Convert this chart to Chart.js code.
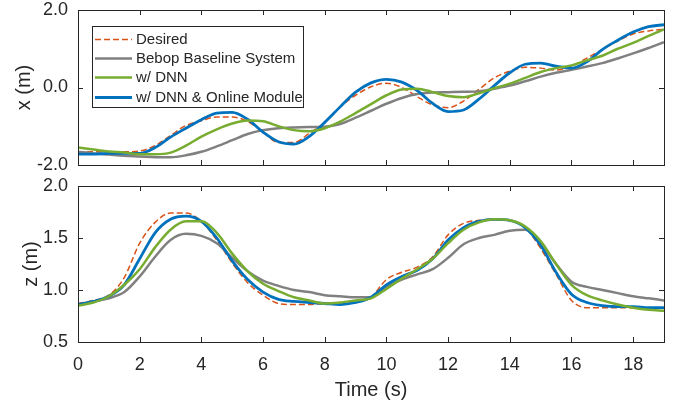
<!DOCTYPE html>
<html>
<head>
<meta charset="utf-8">
<script src="https://cdn.jsdelivr.net/npm/chart.js@4.4.1/dist/chart.umd.min.js"></script>
<style>
  body { margin: 0; background: #fff; overflow: hidden; }
  #wrap { position: relative; width: 693px; height: 400px; overflow: hidden; }
  #wrap canvas { position: absolute; left: 0; }
</style>
</head>
<body>
<div id="wrap">
  <canvas id="chartX" width="693" height="180" style="top:0"></canvas>
  <canvas id="chartZ" width="693" height="227" style="top:176px"></canvas>
</div>
<script>
// time (s)
const tiempo = [0, 0.5, 1, 1.5, 2, 2.5, 3, 3.5, 4, 4.5, 5, 5.5, 6, 6.5, 7, 7.5, 8, 8.5, 9, 9.5,
  10, 10.5, 11, 11.5, 12, 12.5, 13, 13.5, 14, 14.5, 15, 15.5, 16, 16.5, 17, 17.5, 18, 18.5, 19];

const etiquetas = ["Desired", "Bebop Baseline System", "w/ DNN", "w/ DNN & Online Module"];

// x position (m)
const xDeseado = [-1.66, -1.66, -1.66, -1.66, -1.64, -1.5, -1.24, -0.98, -0.86, -0.76, -0.76, -0.88, -1.15, -1.42, -1.42, -1.18, -0.9, -0.5, -0.2, 0.02,
  0.11, 0.0, -0.24, -0.45, -0.52, -0.35, -0.05, 0.25, 0.42, 0.52, 0.5, 0.45, 0.55, 0.76, 0.98, 1.2, 1.38, 1.46, 1.5];
const xBebop = [-1.66, -1.7, -1.73, -1.76, -1.78, -1.8, -1.8, -1.75, -1.66, -1.52, -1.36, -1.2, -1.1, -1.05, -1.03, -1.02, -1.01, -0.94, -0.78, -0.6,
  -0.42, -0.27, -0.17, -0.13, -0.12, -0.11, -0.1, -0.03, 0.05, 0.16, 0.28, 0.38, 0.46, 0.54, 0.63, 0.75, 0.88, 1.02, 1.17];
const xDnn = [-1.55, -1.6, -1.65, -1.68, -1.72, -1.72, -1.68, -1.5, -1.27, -1.08, -0.93, -0.85, -0.87, -1.0, -1.1, -1.13, -1.05, -0.88, -0.66, -0.43,
  -0.2, -0.05, -0.03, -0.12, -0.22, -0.25, -0.15, -0.02, 0.1, 0.25, 0.4, 0.5, 0.57, 0.7, 0.82, 1.0, 1.15, 1.33, 1.5];
const xOnline = [-1.72, -1.72, -1.7, -1.7, -1.7, -1.55, -1.28, -1.05, -0.83, -0.66, -0.64, -0.82, -1.15, -1.4, -1.46, -1.26, -0.9, -0.5, -0.12, 0.12,
  0.21, 0.14, -0.08, -0.41, -0.62, -0.58, -0.3, 0.05, 0.38, 0.6, 0.63, 0.55, 0.5, 0.66, 0.98, 1.22, 1.43, 1.57, 1.62];

// z position (m)
const zDeseado = [0.87, 0.9, 0.95, 1.12, 1.45, 1.65, 1.74, 1.74, 1.66, 1.48, 1.26, 1.07, 0.95, 0.87, 0.86, 0.86, 0.87, 0.87, 0.88, 0.93,
  1.1, 1.17, 1.22, 1.32, 1.53, 1.64, 1.67, 1.68, 1.67, 1.6, 1.4, 1.15, 0.9, 0.83, 0.83, 0.83, 0.83, 0.83, 0.83];
const zBebop = [0.86, 0.89, 0.92, 0.98, 1.13, 1.32, 1.48, 1.54, 1.52, 1.45, 1.31, 1.18, 1.09, 1.04, 1.0, 0.98, 0.95, 0.94, 0.93, 0.93,
  1.03, 1.1, 1.15, 1.2, 1.31, 1.44, 1.5, 1.53, 1.57, 1.58, 1.45, 1.25, 1.08, 1.03, 1.0, 0.97, 0.94, 0.92, 0.9];
const zDnn = [0.85, 0.88, 0.94, 1.05, 1.2, 1.41, 1.58, 1.66, 1.66, 1.55, 1.35, 1.18, 1.06, 0.99, 0.93, 0.9, 0.87, 0.88, 0.9, 0.92,
  1.01, 1.11, 1.2, 1.3, 1.45, 1.58, 1.65, 1.68, 1.67, 1.61, 1.47, 1.25, 1.05, 0.95, 0.9, 0.86, 0.83, 0.81, 0.8];
const zOnline = [0.86, 0.89, 0.94, 1.05, 1.3, 1.55, 1.68, 1.71, 1.66, 1.5, 1.28, 1.1, 0.98, 0.91, 0.89, 0.88, 0.87, 0.86, 0.88, 0.93,
  1.05, 1.13, 1.19, 1.3, 1.48, 1.6, 1.66, 1.68, 1.67, 1.6, 1.43, 1.17, 0.96, 0.88, 0.85, 0.84, 0.84, 0.83, 0.83];

// ticks
const ticksTiempo = [0, 2, 4, 6, 8, 10, 12, 14, 16, 18];
const ticksX = [-2, 0, 2];
const ticksZ = [0.5, 1, 1.5, 2];

const GRIS = '#262626';
const fuente = '"Liberation Sans", Arial, Helvetica, sans-serif';

function series(valores) {
  const estilos = [
    { borderColor: '#D95319', borderWidth: 1.5, borderDash: [6, 3], order: 3 },
    { borderColor: '#808080', borderWidth: 2.5, order: 2 },
    { borderColor: '#77AC30', borderWidth: 2.5, order: 0 },
    { borderColor: '#0072BD', borderWidth: 2.8, order: 1 }
  ];
  return valores.map((v, i) => Object.assign({
    label: etiquetas[i],
    data: tiempo.map((t, k) => ({ x: t, y: v[k] })),
    pointRadius: 0,
    fill: false,
    cubicInterpolationMode: 'monotone'
  }, estilos[i]));
}

// box with inward ticks, like matlab
const marco = {
  id: 'marco',
  afterDatasetsDraw(chart) {
    const { ctx, chartArea: a, scales } = chart;
    ctx.save();
    ctx.strokeStyle = GRIS;
    ctx.lineWidth = 1;
    ctx.strokeRect(Math.round(a.left) + 0.5, Math.round(a.top) + 0.5,
      Math.round(a.right - a.left), Math.round(a.bottom - a.top));
    ctx.beginPath();
    ticksTiempo.forEach(v => {
      const px = Math.round(scales.x.getPixelForValue(v)) + 0.5;
      ctx.moveTo(px, a.top); ctx.lineTo(px, a.top + 5);
      ctx.moveTo(px, a.bottom); ctx.lineTo(px, a.bottom - 5);
    });
    scales.y.ticks.forEach(t => {
      const py = Math.round(scales.y.getPixelForValue(t.value)) + 0.5;
      ctx.moveTo(a.left, py); ctx.lineTo(a.left + 5, py);
      ctx.moveTo(a.right, py); ctx.lineTo(a.right - 5, py);
    });
    ctx.stroke();
    ctx.restore();
  }
};

const leyenda = {
  id: 'leyenda',
  afterDraw(chart, args, opts) {
    if (!opts.show) return;
    const ctx = chart.ctx;
    ctx.save();
    ctx.fillStyle = '#fff';
    ctx.fillRect(92, 26, 211, 81);
    ctx.strokeStyle = GRIS;
    ctx.lineWidth = 1;
    ctx.strokeRect(92.5, 26.5, 211, 81);
    ctx.font = '15px ' + fuente;
    ctx.textBaseline = 'middle';
    chart.data.datasets.forEach((ds, i) => {
      const y = Math.round(39 + i * 19.2) + 0.5;
      ctx.strokeStyle = ds.borderColor;
      ctx.lineWidth = ds.borderWidth;
      ctx.setLineDash(ds.borderDash || []);
      ctx.beginPath();
      ctx.moveTo(95, y); ctx.lineTo(132, y);
      ctx.stroke();
      ctx.setLineDash([]);
      ctx.fillStyle = GRIS;
      ctx.fillText(ds.label, 136, y);
    });
    ctx.restore();
  }
};

function sinPadding(s) {
  s.paddingTop = 0; s.paddingBottom = 0; s.paddingLeft = 0; s.paddingRight = 0;
}

function crear(id, valores, yMin, yMax, yTicks, titulo, conEjeX, padTitulo) {
  return new Chart(document.getElementById(id), {
    type: 'line',
    data: { datasets: series(valores) },
    options: {
      responsive: false,
      animation: false,
      layout: { padding: { left: 0, right: 29, top: 10, bottom: conEjeX ? 0 : 15 } },
      plugins: {
        legend: { display: false },
        tooltip: { enabled: false },
        leyenda: { show: !conEjeX }
      },
      scales: {
        x: {
          type: 'linear',
          min: 0,
          max: 19,
          grid: { display: false, drawTicks: false },
          border: { display: false },
          afterBuildTicks: s => { s.ticks = ticksTiempo.map(v => ({ value: v })); },
          afterFit: s => { s.height = conEjeX ? 61 : 0; sinPadding(s); },
          ticks: {
            display: conEjeX,
            padding: 14,
            maxRotation: 0,
            color: GRIS,
            font: { family: fuente, size: 18, lineHeight: 1 }
          },
          title: {
            display: conEjeX,
            text: 'Time (s)',
            color: GRIS,
            padding: { top: 0, bottom: 1 },
            font: { family: fuente, size: 20, lineHeight: 1.2 }
          }
        },
        y: {
          min: yMin,
          max: yMax,
          grid: { display: false, drawTicks: false },
          border: { display: false },
          afterBuildTicks: s => { s.ticks = yTicks.map(v => ({ value: v })); },
          afterFit: s => { s.width = 78; sinPadding(s); },
          ticks: {
            padding: 10,
            color: GRIS,
            callback: v => v.toFixed(1),
            font: { family: fuente, size: 18, lineHeight: 1 }
          },
          title: {
            display: true,
            text: titulo,
            color: GRIS,
            padding: { top: padTitulo, bottom: 0 },
            font: { family: fuente, size: 20, lineHeight: 1.2 }
          }
        }
      }
    },
    plugins: [marco, leyenda]
  });
}

crear('chartX', [xDeseado, xBebop, xDnn, xOnline], -2, 2, ticksX, 'x (m)', false, 12.5);
crear('chartZ', [zDeseado, zBebop, zDnn, zOnline], 0.5, 2, ticksZ, 'z (m)', true, 19.5);
</script>
</body>
</html>
